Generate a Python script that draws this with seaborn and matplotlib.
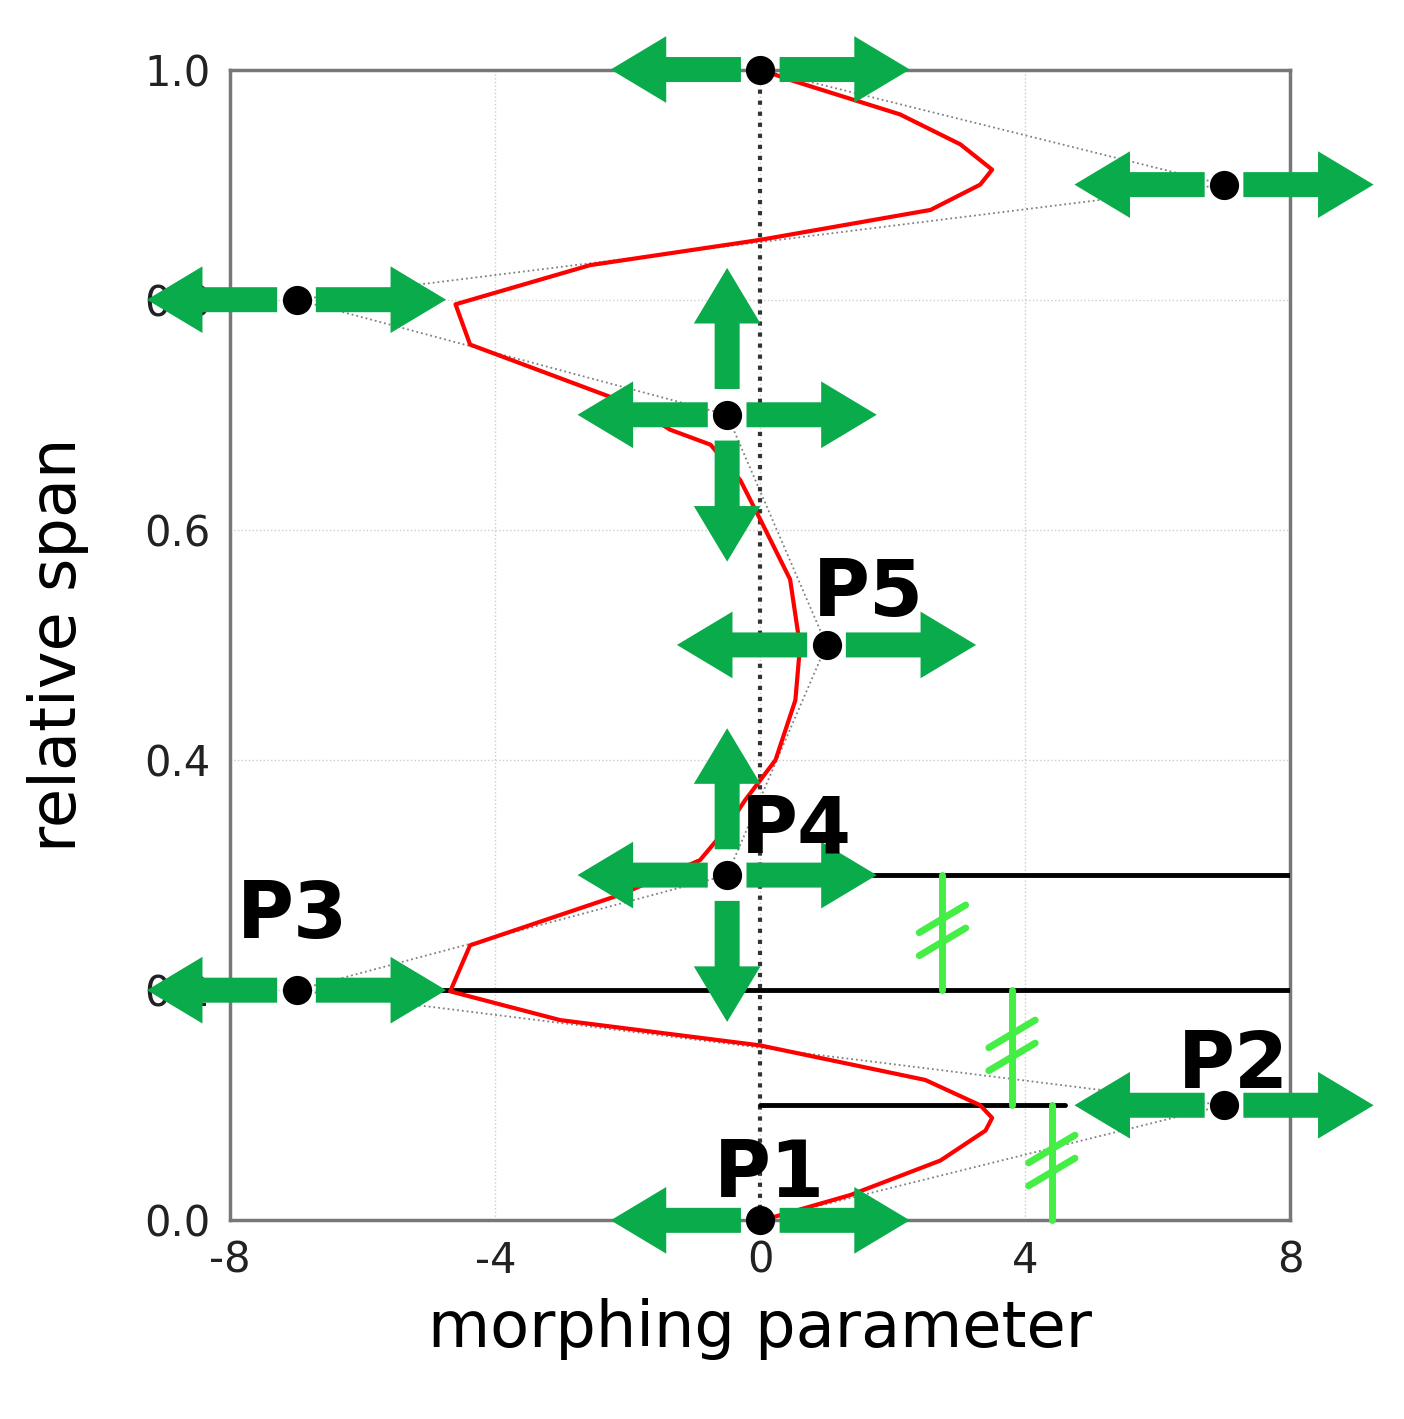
import matplotlib
matplotlib.use("Agg")
import matplotlib.pyplot as plt
import seaborn as sns
import pandas as pd

ctrl_x = [0, 7, -7, -0.5, 1, -0.5, -7, 7, 0]
ctrl_y = [0.0, 0.1, 0.2, 0.3, 0.5, 0.7, 0.8, 0.9, 1.0]
curve_x = [0, 0.15, 1.36, 2.72, 3.40, 3.50, 3.32, 2.49, 0, -3.02, -4.68, -4.38, -2.11, -0.91, -0.53, -0.23,
           0.23, 0.53, 0.60, 0.45, 0, -0.30, -0.75, -1.36, -1.96, -4.38, -4.60, -2.57, 0, 2.57, 3.32, 3.50,
           3.02, 2.11, 0.45, 0]
curve_y = [0, 0.002, 0.022, 0.052, 0.078, 0.089, 0.100, 0.122, 0.152, 0.174, 0.199, 0.239, 0.283, 0.313,
           0.339, 0.365, 0.400, 0.452, 0.499, 0.557, 0.609, 0.643, 0.674, 0.687, 0.709, 0.761, 0.796, 0.830,
           0.852, 0.878, 0.900, 0.913, 0.935, 0.961, 0.991, 1.0]
labels = {"P1": (-0.7, 0.02), "P2": (6.3, 0.115), "P3": (-7.9, 0.245), "P4": (-0.3, 0.32), "P5": (0.8, 0.525)}
hlines = [(0.3, 1.7, 8), (0.2, -4.8, 8), (0.1, 0, 4.6)]
breaks = [(2.75, 0.2, 0.3), (3.8, 0.1, 0.2), (4.4, 0.0, 0.1)]
vert_pts = [(-0.5, 0.7), (-0.5, 0.3)]

sns.set_style("white")
plt.rcParams['font.family'] = ['DejaVu Sans']
plt.rcParams['axes.unicode_minus'] = False
fig = plt.figure(figsize=(14.04, 14.19), dpi=100)
ax = fig.add_axes([0.164, 0.140, 0.755, 0.811])

df = pd.DataFrame({"x": curve_x, "y": curve_y})
sns.lineplot(data=df, x="x", y="y", sort=False, estimator=None, color="red", lw=3, ax=ax, zorder=4)
ax.plot(ctrl_x, ctrl_y, ls=":", color="gray", lw=1.3, zorder=2)
ax.plot([0, 0], [0, 1], ls=":", color="#333333", lw=3, zorder=3)

for y, x0, x1 in hlines:
    ax.plot([x0, x1], [y, y], color="black", lw=3.5, zorder=3)
for x, y0, y1 in breaks:
    ax.plot([x, x], [y0, y1], color="#44ee44", lw=5, zorder=5, clip_on=False)
    for dy in (-0.008, 0.012):
        ym = (y0 + y1) / 2 + dy
        ax.plot([x - 0.35, x + 0.35], [ym - 0.012, ym + 0.012], color="#44ee44", lw=5, zorder=5, clip_on=False)

green = "#0aab4a"
ap = dict(arrowstyle="simple,head_width=1.2,head_length=1.0,tail_width=0.45", color=green, mutation_scale=40, lw=0)
for x, y in zip(ctrl_x, ctrl_y):
    for s in (-1, 1):
        ax.annotate("", xy=(x + s * 2.3, y), xytext=(x + s * 0.25, y), arrowprops=ap,
                    annotation_clip=False, zorder=6)
for x, y in vert_pts:
    for s in (-1, 1):
        ax.annotate("", xy=(x, y + s * 0.13), xytext=(x, y + s * 0.02), arrowprops=ap,
                    annotation_clip=False, zorder=6)
ax.scatter(ctrl_x, ctrl_y, s=400, color="black", zorder=8, clip_on=False)

for t, (x, y) in labels.items():
    ax.text(x, y, t, fontsize=56, fontweight="bold", zorder=9, color="black")

ax.set_xlim(-8, 8)
ax.set_ylim(0, 1)
ax.set_xticks([-8, -4, 0, 4, 8])
ax.set_yticks([0, 0.2, 0.4, 0.6, 0.8, 1.0])
ax.set_yticklabels(["0.0", "0.2", "0.4", "0.6", "0.8", "1.0"])
ax.tick_params(labelsize=30, length=0, pad=14, labelcolor="#222222")
ax.grid(True, ls=":", color="#cccccc", lw=1)
for sp in ax.spines.values():
    sp.set_color("#777777")
    sp.set_linewidth(2.5)
ax.set_xlabel("morphing parameter", fontsize=46, labelpad=12, color="black")
ax.set_ylabel("relative span", fontsize=46, labelpad=40, color="black")
fig.savefig("out.png", dpi=100)
